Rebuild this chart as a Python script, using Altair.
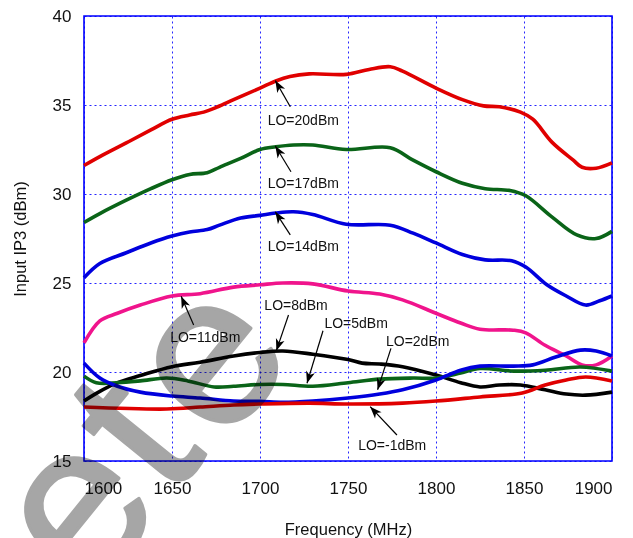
import math

import altair as alt
import numpy as np
import pandas as pd

# ---------------------------------------------------------------------------
# Measured input IP3 (dBm) versus frequency (MHz) for several LO drive levels
# ---------------------------------------------------------------------------
freq_lo20 = [1600, 1609, 1624, 1638, 1650, 1660, 1668, 1676, 1685, 1700, 1709, 1717, 1728,
             1749, 1762, 1774, 1781, 1800, 1815, 1827, 1836, 1848, 1855, 1866, 1878, 1883,
             1891, 1900]
ip3_lo20 = [31.6, 32.1, 32.87, 33.6, 34.2, 34.44, 34.6, 34.9, 35.3, 35.95, 36.35, 36.6, 36.75,
            36.72, 37.0, 37.15, 36.9, 35.95, 35.3, 34.95, 34.9, 34.6, 34.2, 32.9, 31.9, 31.5,
            31.45, 31.75]

freq_lo17 = [1600, 1609, 1624, 1638, 1650, 1660, 1670, 1677, 1689, 1700, 1709, 1719, 1730,
             1749, 1774, 1787, 1800, 1815, 1828, 1842, 1851, 1866, 1880, 1891, 1900]
ip3_lo17 = [28.4, 28.9, 29.65, 30.3, 30.8, 31.1, 31.2, 31.5, 32.0, 32.5, 32.65, 32.75, 32.75,
            32.5, 32.6, 31.9, 31.25, 30.6, 30.3, 30.2, 29.9, 28.7, 27.7, 27.5, 27.9]

freq_lo14 = [1600, 1609, 1624, 1638, 1650, 1660, 1670, 1677, 1689, 1700, 1709, 1719, 1730,
             1749, 1774, 1787, 1800, 1815, 1828, 1843, 1851, 1863, 1874, 1885, 1893, 1900]
ip3_lo14 = [25.3, 26.1, 26.7, 27.25, 27.64, 27.87, 28.0, 28.25, 28.65, 28.8, 28.93, 29.0, 28.85,
            28.3, 28.25, 27.8, 27.25, 26.6, 26.3, 26.25, 25.9, 24.9, 24.27, 23.76, 24.0, 24.27]

freq_lo11 = [1600, 1609, 1619, 1632, 1650, 1666, 1685, 1700, 1713, 1730, 1750, 1768, 1781,
             1800, 1814, 1825, 1844, 1851, 1862, 1874, 1883, 1891, 1900]
ip3_lo11 = [21.63, 22.87, 23.3, 23.76, 24.27, 24.4, 24.77, 24.9, 25.0, 24.95, 24.55, 24.38, 24.05,
            23.3, 22.75, 22.4, 22.35, 22.2, 21.5, 20.9, 20.4, 20.4, 20.9]

freq_lo8 = [1600, 1607, 1619, 1632, 1650, 1666, 1685, 1700, 1713, 1730, 1750, 1758, 1768,
            1781, 1800, 1814, 1825, 1836, 1848, 1862, 1874, 1885, 1900]
ip3_lo8 = [18.37, 18.8, 19.4, 19.8, 20.3, 20.55, 20.9, 21.1, 21.18, 21.0, 20.7, 20.5, 20.45,
           20.3, 19.83, 19.4, 19.16, 19.27, 19.27, 19.0, 18.76, 18.7, 18.87]

freq_lo5 = [1600, 1607, 1619, 1632, 1647, 1659, 1674, 1685, 1700, 1713, 1730, 1750, 1768,
            1787, 1800, 1814, 1825, 1844, 1862, 1882, 1900]
ip3_lo5 = [19.77, 19.4, 19.4, 19.5, 19.66, 19.5, 19.16, 19.2, 19.3, 19.3, 19.2, 19.4, 19.6,
           19.66, 19.66, 19.94, 20.2, 20.05, 20.1, 20.28, 20.05]

freq_lo2 = [1600, 1609, 1619, 1632, 1650, 1666, 1685, 1700, 1713, 1730, 1750, 1768, 1781,
            1800, 1814, 1825, 1844, 1855, 1868, 1882, 1891, 1900]
ip3_lo2 = [20.5, 19.66, 19.2, 18.87, 18.65, 18.54, 18.37, 18.35, 18.3, 18.37, 18.54, 18.76, 19.0,
           19.55, 20.1, 20.33, 20.33, 20.4, 20.84, 21.23, 21.18, 20.9]

freq_lom1 = [1600, 1647, 1666, 1685, 1700, 1728, 1750, 1781, 1800, 1825, 1849, 1862, 1874,
             1885, 1900]
ip3_lom1 = [18.03, 17.92, 18.03, 18.15, 18.2, 18.25, 18.2, 18.25, 18.37, 18.6, 18.82, 19.27,
            19.55, 19.72, 19.5]

series_names = ["LO=20dBm", "LO=17dBm", "LO=14dBm", "LO=11dBm", "LO=8dBm",
                "LO=5dBm", "LO=2dBm", "LO=-1dBm"]
series_colors = ["#E00000", "#0A6418", "#0000DD", "#F0148C", "#000000",
                 "#0A6418", "#0000DD", "#E00000"]
series_freqs = [freq_lo20, freq_lo17, freq_lo14, freq_lo11, freq_lo8, freq_lo5, freq_lo2, freq_lom1]
series_ip3 = [ip3_lo20, ip3_lo17, ip3_lo14, ip3_lo11, ip3_lo8, ip3_lo5, ip3_lo2, ip3_lom1]

# Callout labels: text anchor, arrow tail and arrow tip (in data units)
label_text = ["LO=20dBm", "LO=17dBm", "LO=14dBm", "LO=11dBm", "LO=8dBm",
              "LO=5dBm", "LO=2dBm", "LO=-1dBm"]
label_freq = [1724.6, 1724.6, 1724.6, 1668.9, 1720.5, 1754.6, 1789.6, 1775.1]
label_ip3 = [34.1, 30.57, 27.02, 21.91, 23.7, 22.7, 21.68, 15.85]
tail_freq = [1717.2, 1717.6, 1717.2, 1662.3, 1716.2, 1735.8, 1774.4, 1777.8]
tail_ip3 = [34.9, 31.25, 27.7, 22.64, 23.2, 22.32, 21.33, 16.46]
tip_freq = [1708.7, 1708.7, 1708.7, 1655.2, 1709.3, 1726.7, 1766.8, 1762.6]
tip_ip3 = [36.37, 32.7, 29.0, 24.25, 21.2, 19.37, 19.0, 18.05]

freq_ticks = [1600, 1650, 1700, 1750, 1800, 1850, 1900]
ip3_ticks = [15, 20, 25, 30, 35, 40]

# ---------------------------------------------------------------------------
W, H = 528, 445
FONT = "Liberation Sans, Arial, Helvetica, sans-serif"
GRID_BLUE = "#0000FF"

x_scale = alt.Scale(domain=[freq_ticks[0], freq_ticks[-1]], nice=False, zero=False)
y_scale = alt.Scale(domain=[ip3_ticks[0], ip3_ticks[-1]], nice=False, zero=False)

rows = []
for name, fs, vs in zip(series_names, series_freqs, series_ip3):
    for f, v in zip(fs, vs):
        rows.append({"series": name, "freq": f, "ip3": v})
curves = pd.DataFrame(rows)

lines = alt.Chart(curves).mark_line(strokeWidth=3.6, interpolate="catmull-rom").encode(
    x=alt.X("freq:Q", scale=x_scale,
            axis=alt.Axis(values=freq_ticks, title="Frequency (MHz)", format="d",
                          titleY=73, titleBaseline="alphabetic")),
    y=alt.Y("ip3:Q", scale=y_scale,
            axis=alt.Axis(values=ip3_ticks, title="Input IP3 (dBm)", format="d",
                          titleX=-64, titleBaseline="middle")),
    color=alt.Color("series:N", scale=alt.Scale(domain=series_names, range=series_colors),
                    legend=None),
)

# Arrow head orientation follows each arrow's direction on screen
px_per_mhz = W / (freq_ticks[-1] - freq_ticks[0])
px_per_db = H / (ip3_ticks[-1] - ip3_ticks[0])
head_angle = []
for tf, tv, hf, hv in zip(tail_freq, tail_ip3, tip_freq, tip_ip3):
    dx = (hf - tf) * px_per_mhz
    dy = -(hv - tv) * px_per_db
    head_angle.append(math.degrees(math.atan2(dx, -dy)) % 360)

notes = pd.DataFrame({
    "label": label_text, "lf": label_freq, "lv": label_ip3,
    "tf": tail_freq, "tv": tail_ip3, "hf": tip_freq, "hv": tip_ip3,
    "angle": head_angle,
})

shafts = alt.Chart(notes).mark_rule(color="black", strokeWidth=1.2).encode(
    x="tf:Q", y="tv:Q", x2="hf:Q", y2="hv:Q")

heads = alt.Chart(notes).mark_point(
    shape="M0,0 L0.38,1 L0,0.72 L-0.38,1 Z", size=560, filled=True,
    color="black", opacity=1, strokeWidth=0,
).encode(x="hf:Q", y="hv:Q", angle=alt.Angle("angle:Q", scale=None))

texts = alt.Chart(notes).mark_text(fontSize=14, font=FONT, color="#111111").encode(
    x="lf:Q", y="lv:Q", text="label:N")

# Large translucent watermark letters across the lower-left corner
mark_letters = ["e", "t", "e"]
mark_x = [-6, 54, 126]
mark_y = [494, 420, 344]
single = pd.DataFrame({"k": [0]})
watermark = []
for ch, mx, my in zip(mark_letters, mark_x, mark_y):
    watermark.append(
        alt.Chart(single).mark_text(
            text=ch, fontSize=216, font=FONT, fill="#A6A6A6", stroke="#A6A6A6",
            strokeWidth=3, strokeJoin="round",
            angle=309, align="center", baseline="middle", blend="multiply",
        ).encode(x=alt.value(mx), y=alt.value(my))
    )

chart = alt.layer(lines, shafts, heads, texts, *watermark).properties(
    width=W, height=H,
    padding={"left": 84, "top": 16, "right": 21, "bottom": 77},
    autosize=alt.AutoSizeParams(type="none"),
    background="white",
).configure_view(
    stroke=GRID_BLUE, strokeWidth=1.6,
).configure_axis(
    labelFont=FONT, titleFont=FONT, labelFontSize=17, titleFontSize=16.5,
    labelColor="#111111", titleColor="#111111", titleFontWeight="normal",
    grid=True, gridColor=GRID_BLUE, gridDash=[2, 3], gridWidth=1, gridOpacity=0.85,
    domain=False, ticks=False,
).configure_axisX(
    labelPadding=19,
).configure_axisY(
    labelPadding=13,
)

chart.save("out.html", embed_options={"renderer": "svg", "actions": False})
